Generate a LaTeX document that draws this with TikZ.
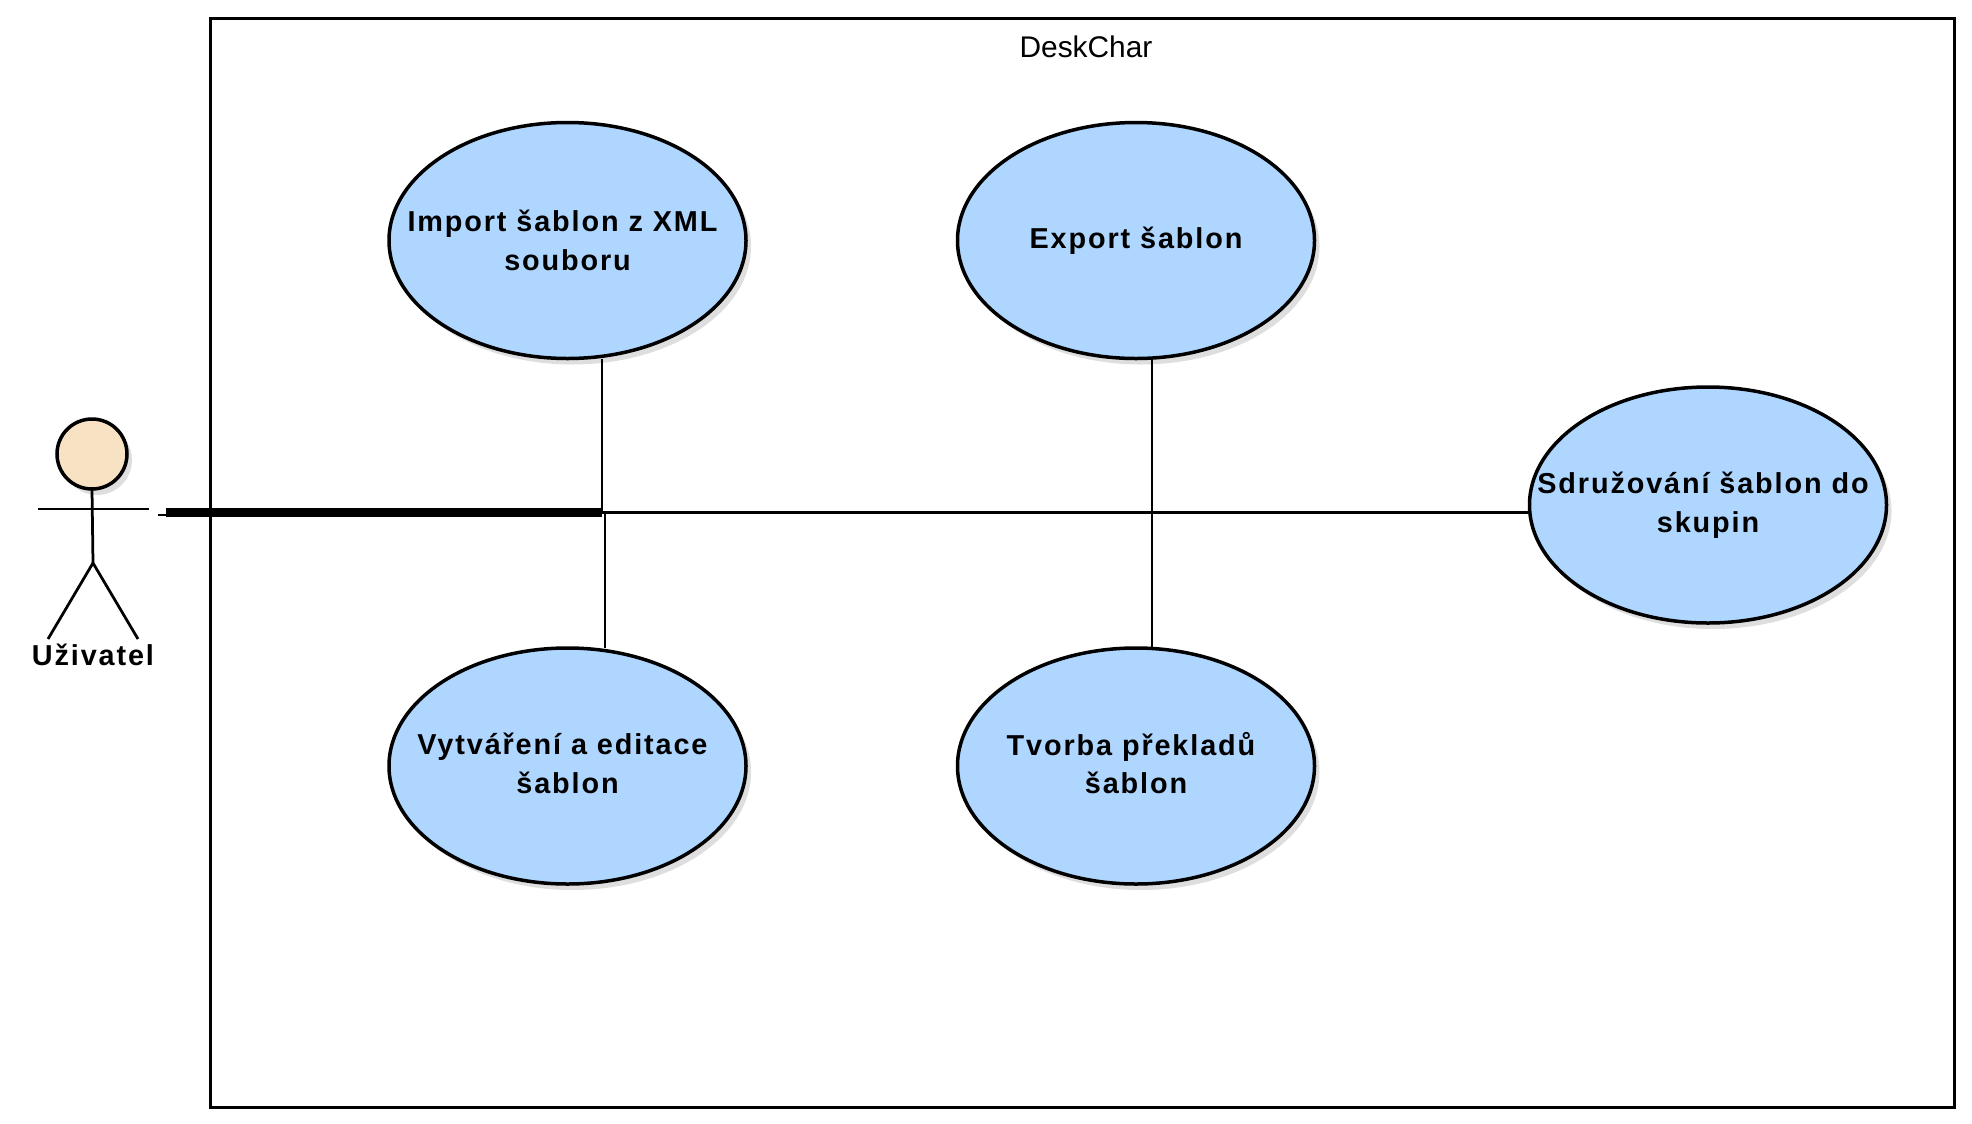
\documentclass[tikz,border=0pt]{standalone}
\usepackage{fontspec}
\setmainfont{Liberation Sans}
\newfontfamily\casefont[LetterSpace=6.5]{Liberation Sans}
\usetikzlibrary{calc,shadows,shapes.geometric}
\definecolor{caseblue}{RGB}{175,214,255}
\definecolor{actorskin}{RGB}{248,226,196}
\definecolor{shadowgrey}{RGB}{222,222,222}
\tikzset{
  wire/.style={black,line width=0.55mm},
  busline/.style={black,line width=1.8mm},
  border/.style={black,line width=0.6mm},
  usecase/.style={ellipse,draw=black,line width=0.7mm,fill=caseblue,inner xsep=-11mm,inner ysep=0pt,outer sep=0pt,
                  minimum width=71.4mm,minimum height=47.2mm,align=center,
                  font=\casefont\fontsize{16.4pt}{22pt}\selectfont\bfseries,
                  drop shadow={shadow xshift=1mm,shadow yshift=-1.2mm,fill=shadowgrey,opacity=1}},
  lifted/.style={execute at end node=\rule[-3.4pt]{0pt}{0pt}},
  actorhead/.style={usecase,inner xsep=0pt,minimum width=14mm,minimum height=14mm},
  actorname/.style={font=\casefont\fontsize{16.4pt}{22pt}\selectfont\bfseries},
  boxname/.style={font=\fontsize{17pt}{20pt}\selectfont},
}
\begin{document}
\begin{tikzpicture}[x=0.2mm,y=-0.2mm]
  \path[use as bounding box] (0,0) rectangle (1972,1124);
  \draw[border] (210,18) rectangle (1954.5,1107);
  \node[boxname] (deskchar) at (1086,46.5) {DeskChar};

  \node[usecase] (import) at (567.5,240.5) {Import šablon z XML\hspace*{2mm}\\souboru};
  \node[usecase] (export) at (1136,240.5) {Export šablon};
  \node[usecase,lifted] (editing) at (567.5,766) {Vytváření a editace\hspace*{2mm}\\šablon};
  \node[usecase,lifted] (translation) at (1136,766) {Tvorba překladů\hspace*{2mm}\\šablon};
  \node[usecase] (grouping) at (1708,505) {Sdružování šablon do\hspace*{2mm}\\skupin};

  % actor
  \node[actorhead,fill=actorskin] (head) at (92,454) {};
  \coordinate (hip) at (93,563);
  \coordinate (armleft) at (38,509);
  \coordinate (armright) at (149,509);
  \coordinate (footleft) at (48,639);
  \coordinate (footright) at (138,639);
  \draw[wire] (head.south) -- (hip);
  \draw[wire] (armleft) -- (armright);
  \draw[wire] (footleft) -- (hip) -- (footright);
  \node[actorname] (user) at (93,655) {Uživatel};

  % associations
  \coordinate (hand) at (158,515);
  \coordinate (busstart) at (166,512.5);
  \coordinate (busimport) at (602,512.5);
  \coordinate (busediting) at (605,512.5);
  \coordinate (busexport) at (1152,512.5);
  \draw[wire] (hand) -- (hand -| busstart);
  \draw[busline] (busstart) -- (busimport);
  \draw[wire] (busimport) -- (grouping.west |- busimport);
  \draw[wire] (import.south -| busimport) -- (busimport);
  \draw[wire] (busediting) -- (editing.north -| busediting);
  \draw[wire] (export.south -| busexport) -- (translation.north -| busexport);
\end{tikzpicture}
\end{document}
